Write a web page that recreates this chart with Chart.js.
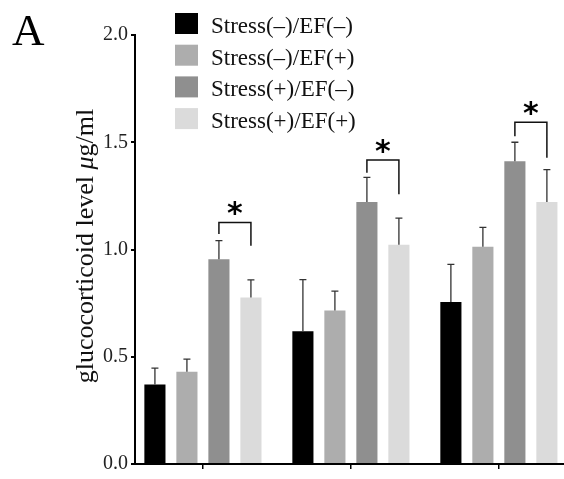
<!DOCTYPE html>
<html>
<head>
<meta charset="utf-8">
<script src="https://cdn.jsdelivr.net/npm/chart.js@4.4.0/dist/chart.umd.min.js"></script>
<style>
    html, body { margin: 0; padding: 0; background: #fff; }
</style>
</head>
<body>
<canvas id="myChart" width="564" height="479"></canvas>
<script>
// three groups on the x axis, no labels under them
const groups = [0, 1, 2]

const labels = ['Stress(–)/EF(–)', 'Stress(–)/EF(+)', 'Stress(+)/EF(–)', 'Stress(+)/EF(+)']
const colors = ['#000000', '#adadad', '#8f8f8f', '#dbdbdb']

// means
const stressNegEfNeg = [0.371, 0.619, 0.755]
const stressNegEfPos = [0.430, 0.716, 1.013]
const stressPosEfNeg = [0.955, 1.222, 1.412]
const stressPosEfPos = [0.776, 1.022, 1.222]

// upper error (sd)
const errNegNeg = [0.076, 0.241, 0.176]
const errNegPos = [0.059, 0.090, 0.090]
const errPosNeg = [0.086, 0.114, 0.088]
const errPosPos = [0.082, 0.124, 0.150]

// significance brackets between Stress(+)/EF(-) and Stress(+)/EF(+)
const bracketTop = [1.126, 1.417, 1.593]
const bracketLeftEnd = [1.072, 1.358, 1.528]
const bracketRightEnd = [1.018, 1.258, 1.428]

const yTicks = [0, 0.5, 1.0, 1.5, 2.0]

const means = [stressNegEfNeg, stressNegEfPos, stressPosEfNeg, stressPosEfPos]
const errors = [errNegNeg, errNegPos, errPosNeg, errPosPos]

const serif = '"Liberation Serif", "Times New Roman", serif'

const errorBars = {
    id: 'errorBars',
    afterDatasetsDraw(chart) {
        const ctx = chart.ctx
        const y = chart.scales.y
        ctx.save()
        ctx.strokeStyle = '#333'
        ctx.lineWidth = 1.3
        means.forEach((serie, i) => {
            const meta = chart.getDatasetMeta(i)
            meta.data.forEach((bar, j) => {
                const top = y.getPixelForValue(serie[j] + errors[i][j])
                ctx.beginPath()
                ctx.moveTo(bar.x, bar.y)
                ctx.lineTo(bar.x, top)
                ctx.moveTo(bar.x - 3.5, top)
                ctx.lineTo(bar.x + 3.5, top)
                ctx.stroke()
            })
        })
        ctx.restore()
    }
}

const brackets = {
    id: 'brackets',
    afterDatasetsDraw(chart) {
        const ctx = chart.ctx
        const y = chart.scales.y
        const left = chart.getDatasetMeta(2).data
        const right = chart.getDatasetMeta(3).data
        ctx.save()
        ctx.strokeStyle = '#111'
        ctx.lineWidth = 1.5
        groups.forEach((g, j) => {
            const x1 = left[j].x
            const x2 = right[j].x
            const yt = y.getPixelForValue(bracketTop[j])
            ctx.beginPath()
            ctx.moveTo(x1, y.getPixelForValue(bracketLeftEnd[j]))
            ctx.lineTo(x1, yt)
            ctx.lineTo(x2, yt)
            ctx.lineTo(x2, y.getPixelForValue(bracketRightEnd[j]))
            ctx.stroke()

            ctx.font = 'bold 30px "DejaVu Sans"'
            ctx.fillStyle = '#000'
            const m = ctx.measureText('*')
            const w = m.actualBoundingBoxRight + m.actualBoundingBoxLeft
            const h = m.actualBoundingBoxAscent + m.actualBoundingBoxDescent
            const cx = (x1 + x2) / 2
            const cy = yt - 13.5
            ctx.textBaseline = 'alphabetic'
            ctx.fillText('*', cx - w / 2 + m.actualBoundingBoxLeft, cy - h / 2 + m.actualBoundingBoxAscent)
        })
        ctx.restore()
    }
}

const extras = {
    id: 'extras',
    afterDraw(chart) {
        const ctx = chart.ctx
        ctx.save()

        // panel letter
        ctx.fillStyle = '#000'
        ctx.font = '45px ' + serif
        ctx.textBaseline = 'alphabetic'
        ctx.fillText('A', 12, 45)

        // legend
        ctx.font = '23px ' + serif
        labels.forEach((lab, i) => {
            const top = 13 + i * 31.7
            ctx.fillStyle = colors[i]
            ctx.fillRect(175, top, 23, 21)
            ctx.fillStyle = '#111'
            ctx.fillText(lab, 211, top + 20)
        })

        // y axis title with italic mu
        const parts = [
            ['glucocorticoid level ', '26px ' + serif],
            ['μ', 'italic 26px ' + serif],
            ['g/ml', '26px ' + serif]
        ]
        let total = 0
        parts.forEach(p => {
            ctx.font = p[1]
            total += ctx.measureText(p[0]).width
        })
        ctx.translate(93, 246)
        ctx.rotate(-Math.PI / 2)
        let x = -total / 2
        ctx.fillStyle = '#111'
        parts.forEach(p => {
            ctx.font = p[1]
            ctx.fillText(p[0], x, 0)
            x += ctx.measureText(p[0]).width
        })
        ctx.restore()
    }
}

new Chart(document.getElementById('myChart'), {
    type: 'bar',
    data: {
        datasets: labels.map((lab, i) => ({
            label: lab,
            data: groups.map((g, j) => ({ x: g, y: means[i][j] })),
            backgroundColor: colors[i],
            borderWidth: 0,
            categoryPercentage: 0.865,
            barPercentage: 0.66
        }))
    },
    options: {
        responsive: false,
        animation: false,
        devicePixelRatio: 1,
        layout: { padding: { top: 35, left: 0, right: 0, bottom: 0 } },
        scales: {
            x: {
                type: 'linear',
                offset: false,
                min: -0.459,
                max: 2.44,
                bounds: 'data',
                afterBuildTicks: (scale) => {
                    scale.ticks = groups.map(v => ({ value: v }))
                },
                afterFit: (scale) => { scale.height = 13 },
                ticks: { display: false },
                grid: { offset: false, drawOnChartArea: false, drawTicks: true, tickLength: 5, color: '#000', lineWidth: 1.5 },
                border: { display: true, color: '#000', width: 2 }
            },
            y: {
                min: 0,
                max: 2,
                afterBuildTicks: (scale) => {
                    scale.ticks = yTicks.map(v => ({ value: v }))
                },
                afterFit: (scale) => { scale.width = 135 },
                ticks: {
                    padding: 3,
                    color: '#222',
                    font: { family: serif, size: 20 },
                    callback: (v) => Number(v).toFixed(1)
                },
                grid: { drawOnChartArea: false, drawTicks: true, tickLength: 4, color: '#000', lineWidth: 2 },
                border: { display: true, color: '#000', width: 2 }
            }
        },
        plugins: {
            legend: { display: false },
            tooltip: { enabled: false }
        }
    },
    plugins: [errorBars, brackets, extras]
})
</script>
</body>
</html>
